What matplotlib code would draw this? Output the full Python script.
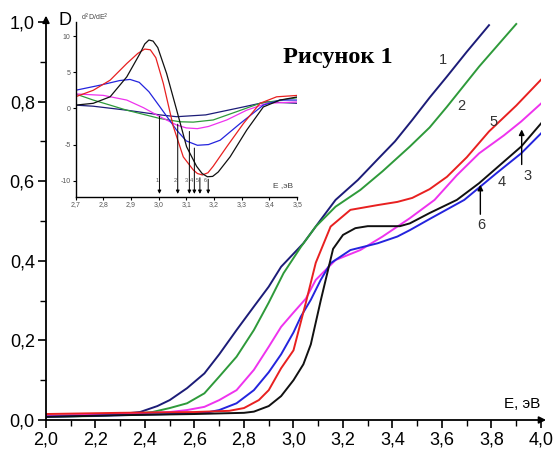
"""
plot.py - absorption spectra D(E) of six samples with the second-derivative
inset (d2D/dE2) used to locate the band edges.

Run:  python3 plot.py   ->  out.png
"""

import matplotlib
matplotlib.use("Agg")
import matplotlib.pyplot as plt
from matplotlib.ticker import MultipleLocator, FuncFormatter

plt.rcParams["font.family"] = ["Liberation Sans", "DejaVu Sans"]

# ---- main spectra (E in eV, optical density D) ----
e1 = [2.0, 2.2, 2.3, 2.38, 2.45, 2.5, 2.57, 2.64, 2.7, 2.77, 2.84, 2.9, 2.95,
      3.04, 3.11, 3.17, 3.26, 3.34, 3.41, 3.48, 3.55, 3.62, 3.7, 3.79]
d1 = [0.01, 0.012, 0.015, 0.02, 0.035, 0.05, 0.08, 0.117, 0.165, 0.226, 0.285,
      0.335, 0.385, 0.444, 0.503, 0.553, 0.603, 0.655, 0.70, 0.754, 0.81,
      0.863, 0.925, 0.992]

e2 = [2.0, 2.2, 2.35, 2.43, 2.5, 2.57, 2.64, 2.7, 2.77, 2.84, 2.9, 2.96, 3.03,
      3.09, 3.17, 3.27, 3.36, 3.47, 3.55, 3.62, 3.75, 3.9]
d2 = [0.008, 0.01, 0.015, 0.02, 0.03, 0.042, 0.067, 0.109, 0.159, 0.226, 0.295,
      0.369, 0.435, 0.486, 0.536, 0.578, 0.625, 0.687, 0.735, 0.787, 0.888,
      0.995]

e3 = [2.0, 2.3, 2.5, 2.57, 2.64, 2.7, 2.77, 2.84, 2.9, 2.95, 3.0, 3.05, 3.09,
      3.17, 3.27, 3.36, 3.47, 3.57, 3.66, 3.75, 3.85, 3.92, 4.0]
d3 = [0.01, 0.015, 0.02, 0.025, 0.033, 0.05, 0.075, 0.126, 0.184, 0.234, 0.27,
      0.305, 0.352, 0.402, 0.427, 0.461, 0.507, 0.553, 0.615, 0.67, 0.715,
      0.75, 0.795]

e4 = [2.0, 2.3, 2.5, 2.6, 2.66, 2.7, 2.77, 2.84, 2.9, 2.95, 3.0, 3.03, 3.07,
      3.11, 3.15, 3.23, 3.34, 3.42, 3.47, 3.55, 3.69, 3.82, 3.92, 4.0]
d4 = [0.008, 0.012, 0.015, 0.018, 0.02, 0.025, 0.042, 0.075, 0.12, 0.165, 0.22,
      0.26, 0.302, 0.352, 0.394, 0.427, 0.444, 0.461, 0.477, 0.505, 0.553,
      0.62, 0.67, 0.72]

e5 = [2.0, 2.3, 2.6, 2.74, 2.8, 2.86, 2.9, 2.95, 3.0, 3.05, 3.09, 3.15, 3.23,
      3.34, 3.42, 3.48, 3.55, 3.62, 3.7, 3.79, 3.9, 4.0]
d5 = [0.015, 0.018, 0.02, 0.023, 0.03, 0.05, 0.075, 0.13, 0.175, 0.295, 0.395,
      0.486, 0.528, 0.54, 0.548, 0.558, 0.58, 0.611, 0.66, 0.725, 0.79, 0.855]

e6 = [2.0, 2.3, 2.6, 2.8, 2.84, 2.9, 2.95, 3.0, 3.04, 3.07, 3.11, 3.16, 3.2,
      3.25, 3.3, 3.43, 3.47, 3.55, 3.66, 3.75, 3.92, 4.0]
d6 = [0.008, 0.012, 0.015, 0.018, 0.021, 0.035, 0.06, 0.1, 0.14, 0.19, 0.3,
      0.43, 0.465, 0.482, 0.487, 0.487, 0.494, 0.52, 0.553, 0.595, 0.687, 0.745]

# ---- inset: second derivative d2D/dE2 ----
ie1 = [2.7, 2.764, 2.885, 3.005, 3.065, 3.17, 3.306, 3.39, 3.504]
iv1 = [0.45, 0.3, -0.25, -0.9, -1.15, -0.9, 0.2, 0.9, 0.7]

ie2 = [2.7, 2.764, 2.825, 2.885, 3.005, 3.077, 3.125, 3.197, 3.282, 3.366, 3.504]
iv2 = [2.0, 1.15, 0.45, -0.25, -1.4, -1.85, -1.9, -1.6, -0.45, 0.7, 1.5]

ie3 = [2.7, 2.8, 2.885, 2.945, 3.005, 3.065, 3.1, 3.14, 3.18, 3.246, 3.318,
       3.39, 3.504]
iv3 = [2.0, 1.8, 1.15, 0.1, -1.15, -2.3, -2.7, -2.8, -2.5, -1.6, -0.25, 0.7, 0.9]

ie4 = [2.7, 2.788, 2.86, 2.897, 2.93, 2.965, 3.005, 3.065, 3.1, 3.14, 3.18,
       3.222, 3.294, 3.378, 3.438, 3.504]
iv4 = [2.5, 3.2, 3.85, 4.0, 3.6, 2.3, 0.2, -3.0, -4.5, -5.1, -5.0, -4.4, -2.1,
       0.45, 1.15, 1.15]

ie5 = [2.7, 2.764, 2.825, 2.885, 2.925, 2.95, 2.97, 2.99, 3.017, 3.053, 3.089,
       3.125, 3.14, 3.158, 3.178, 3.197, 3.246, 3.306, 3.366, 3.426, 3.504]
iv5 = [1.6, 2.5, 3.9, 6.2, 7.6, 8.2, 8.1, 7.0, 3.45, -2.5, -6.7, -8.5, -9.0,
       -9.2, -8.9, -8.0, -5.3, -2.1, 0.7, 1.6, 1.8]

ie6 = [2.7, 2.764, 2.825, 2.885, 2.933, 2.95, 2.965, 2.98, 2.997, 3.029, 3.065,
       3.101, 3.137, 3.157, 3.176, 3.195, 3.215, 3.258, 3.318, 3.378, 3.438,
       3.504]
iv6 = [0.45, 0.7, 1.6, 4.35, 7.6, 8.9, 9.45, 9.3, 8.4, 4.8, -0.2, -5.3, -8.0,
       -9.0, -9.45, -9.4, -8.8, -6.7, -3.0, 0.2, 1.15, 1.6]

# band-edge positions (inset arrows) and the minimum each arrow starts from
edge_e = [3.003, 3.069, 3.111, 3.129, 3.149, 3.179]
edge_top = [-0.7, -1.8, -2.8, -5.1, -9.2, -9.4]
edge_lbl = ["1", "2", "3", "4", "5", "6"]

colors = ["#1c1c78", "#2e9a3a", "#ee33ee", "#2424dd", "#e82020", "#111111"]
spectra = [(e1, d1), (e2, d2), (e3, d3), (e4, d4), (e5, d5), (e6, d6)]
inset = [(ie1, iv1), (ie2, iv2), (ie3, iv3), (ie4, iv4), (ie5, iv5), (ie6, iv6)]

comma = FuncFormatter(lambda v, p: f"{v:.1f}".replace(".", ","))

fig = plt.figure(figsize=(5.56, 4.49), dpi=100)
ax = fig.add_axes([0.0827, 0.0646, 0.8903, 0.8864])

for (e, d), c in zip(spectra, colors):
    ax.plot(e, d, color=c, lw=1.4)

ax.set_xlim(2.0, 4.0)
ax.set_ylim(0.0, 1.0)
for s in ("top", "right"):
    ax.spines[s].set_visible(False)
for s in ("left", "bottom"):
    ax.spines[s].set_linewidth(1.3)
ax.xaxis.set_major_locator(MultipleLocator(0.2))
ax.xaxis.set_minor_locator(MultipleLocator(0.1))
ax.yaxis.set_major_locator(MultipleLocator(0.2))
ax.yaxis.set_minor_locator(MultipleLocator(0.1))
ax.xaxis.set_major_formatter(comma)
ax.yaxis.set_major_formatter(comma)
ax.tick_params(which="major", length=6, width=1.2, labelsize=13, pad=2)
ax.tick_params(which="minor", length=4, width=1.0)

# axis arrows
ax.annotate("", xy=(0, 1.023), xytext=(0, 0.99), xycoords="axes fraction",
            arrowprops=dict(arrowstyle="-|>", color="k", lw=1.3,
                            mutation_scale=10))
ax.annotate("", xy=(1.016, 0), xytext=(0.99, 0), xycoords="axes fraction",
            arrowprops=dict(arrowstyle="-|>", color="k", lw=1.3,
                            mutation_scale=10))

ax.text(2.05, 1.005, "D", fontsize=13, va="center", ha="left")
ax.text(3.925, 0.04, "E, эВ", fontsize=11, va="center", ha="center")
ax.text(3.18, 0.91, "Рисунок 1", fontsize=17.5, fontweight="bold",
        family=["Liberation Serif", "DejaVu Serif"], ha="center", va="center")

# curve numbers
for lbl, x, y in [("1", 3.604, 0.905), ("2", 3.68, 0.79), ("5", 3.81, 0.749),
                  ("3", 3.947, 0.612), ("4", 3.842, 0.598), ("6", 3.758, 0.49)]:
    ax.text(x, y, lbl, fontsize=10.5, color="#333333", ha="center", va="center")
ax.annotate("", xy=(3.922, 0.737), xytext=(3.922, 0.635),
            arrowprops=dict(arrowstyle="-|>", color="k", lw=1.0,
                            mutation_scale=8))
ax.annotate("", xy=(3.755, 0.598), xytext=(3.755, 0.51),
            arrowprops=dict(arrowstyle="-|>", color="k", lw=1.0,
                            mutation_scale=8))

# ---- inset ----
ai = fig.add_axes([0.1358, 0.562, 0.3986, 0.390])
ai.patch.set_alpha(0.0)
for (e, v), c in zip(inset, colors):
    ai.plot(e, v, color=c, lw=0.9)
ai.set_xlim(2.7, 3.5)
ai.set_ylim(-12.2, 12)
for s in ("top", "right"):
    ai.spines[s].set_visible(False)
for s in ("left", "bottom"):
    ai.spines[s].set_linewidth(1.0)
ai.xaxis.set_major_locator(MultipleLocator(0.1))
ai.yaxis.set_major_locator(MultipleLocator(5))
ai.xaxis.set_major_formatter(comma)
ai.yaxis.set_major_formatter(FuncFormatter(lambda v, p: f"{v:.0f}"))
ai.tick_params(length=2, width=0.8, labelsize=5, pad=1.5,
               labelcolor="#555555")

for x, top, lbl in zip(edge_e, edge_top, edge_lbl):
    ai.annotate("", xy=(x, -12.2), xytext=(x, top),
                arrowprops=dict(arrowstyle="-|>", color="k", lw=0.7,
                                mutation_scale=5))
    ai.text(x - 0.01, -10.0, lbl, fontsize=4, color="#555555",
            ha="center", va="center")

ai.text(3.449, -10.6, "E ,эВ", fontsize=6, color="#444444",
        ha="center", va="center")
ai.text(2.72, 12.6, "d$^2$D/dE$^2$", fontsize=5, color="#444444",
        ha="left", va="center", clip_on=False)

fig.savefig("out.png", dpi=100)
